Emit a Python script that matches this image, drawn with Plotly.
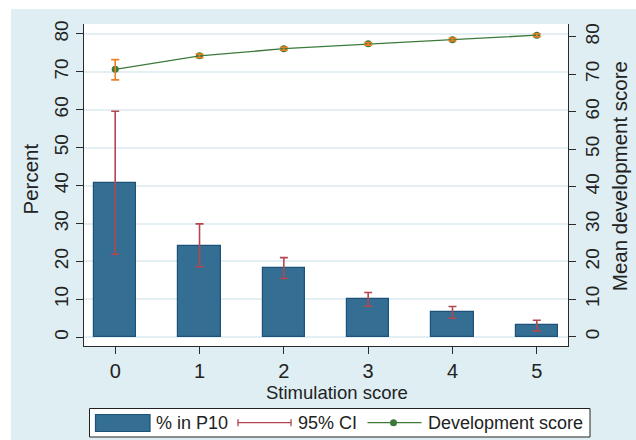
import plotly.graph_objects as go

# ---- data ----
stim_scores = [0, 1, 2, 3, 4, 5]
pct_p10 = [40.8, 24.1, 18.3, 10.0, 6.7, 3.2]
pct_ci_low = [21.9, 18.6, 15.5, 8.2, 5.0, 1.7]
pct_ci_high = [59.6, 29.9, 21.0, 11.8, 8.1, 4.5]
dev_score = [71.3, 74.9, 76.8, 78.1, 79.2, 80.4]
dev_ci_low = [68.5, 74.4, 76.4, 77.75, 78.85, 80.0]
dev_ci_high = [73.9, 75.4, 77.2, 78.45, 79.55, 80.8]
ytick_vals = [0, 10, 20, 30, 40, 50, 60, 70, 80]
xtick_labels = ["0", "1", "2", "3", "4", "5"]
legend_labels = ["% in P10", "95% CI", "Development score"]

FONT = "Liberation Sans, Arial, Helvetica, sans-serif"
BG = "#deeef2"
BAR_FILL = "#346f93"
BAR_LINE = "#1c5179"
CI_RED = "#b4464f"
GREEN = "#3d7a3a"
ORANGE = "#ec8027"
AX = "#2a2a2a"
TXT = "#222222"

# plot area in pixels
L, R, T, B = 84, 568, 24, 346
W, H = 636, 440


def px(x):
    return (x - L) / (R - L)


def py(y):
    return (B - y) / (B - T)


fig = go.Figure()

fig.add_trace(go.Bar(
    x=stim_scores, y=pct_p10, width=0.5, name=legend_labels[0],
    marker=dict(color=BAR_FILL, line=dict(color=BAR_LINE, width=1.2)),
    yaxis="y",
))

fig.add_trace(go.Scatter(
    x=stim_scores, y=pct_ci_high, mode="markers", name=legend_labels[1],
    marker=dict(opacity=0, size=1, color=CI_RED),
    error_y=dict(type="data", symmetric=False, array=[0] * len(stim_scores),
                 arrayminus=[h - l for h, l in zip(pct_ci_high, pct_ci_low)],
                 color=CI_RED, thickness=1.6, width=4),
    hoverinfo="skip", yaxis="y",
))

fig.add_trace(go.Scatter(
    x=stim_scores, y=dev_score, mode="lines+markers", name=legend_labels[2],
    line=dict(color=GREEN, width=1.3),
    marker=dict(color=GREEN, size=7),
    yaxis="y2",
))
fig.add_trace(go.Scatter(
    x=stim_scores, y=dev_score, mode="markers",
    marker=dict(opacity=0, size=1, color=ORANGE),
    error_y=dict(type="data", symmetric=False,
                 array=[h - d for h, d in zip(dev_ci_high, dev_score)],
                 arrayminus=[d - l for d, l in zip(dev_score, dev_ci_low)],
                 color=ORANGE, thickness=1.6, width=4),
    hoverinfo="skip", yaxis="y2",
))

# ---- manual legend (Stata style) ----
leg_y = 422.7
shapes = [
    # white strips at the top/left edge of the picture
    dict(type="rect", xref="paper", yref="paper",
         x0=px(-20), x1=px(11), y0=py(W), y1=py(-20),
         fillcolor="white", line=dict(width=0), layer="below"),
    dict(type="rect", xref="paper", yref="paper",
         x0=px(-20), x1=px(W + 20), y0=py(9), y1=py(-20),
         fillcolor="white", line=dict(width=0), layer="below"),
    # legend box
    dict(type="rect", xref="paper", yref="paper",
         x0=px(89.5), x1=px(590), y0=py(437), y1=py(408.5),
         fillcolor="white", line=dict(color=TXT, width=1)),
    # bar swatch
    dict(type="rect", xref="paper", yref="paper",
         x0=px(95.5), x1=px(150), y0=py(431.5), y1=py(414.5),
         fillcolor=BAR_FILL, line=dict(color=BAR_LINE, width=1.2)),
    # CI symbol
    dict(type="line", xref="paper", yref="paper",
         x0=px(237.5), x1=px(291.5), y0=py(leg_y), y1=py(leg_y),
         line=dict(color=CI_RED, width=1.3)),
    dict(type="line", xref="paper", yref="paper",
         x0=px(238), x1=px(238), y0=py(leg_y - 3.5), y1=py(leg_y + 3.5),
         line=dict(color=CI_RED, width=1.3)),
    dict(type="line", xref="paper", yref="paper",
         x0=px(291), x1=px(291), y0=py(leg_y - 3.5), y1=py(leg_y + 3.5),
         line=dict(color=CI_RED, width=1.3)),
    # development line symbol
    dict(type="line", xref="paper", yref="paper",
         x0=px(367.5), x1=px(421.5), y0=py(leg_y), y1=py(leg_y),
         line=dict(color=GREEN, width=1.3)),
    dict(type="circle", xref="paper", yref="paper",
         x0=px(393.5 - 3.5), x1=px(393.5 + 3.5),
         y0=py(leg_y + 3.5), y1=py(leg_y - 3.5),
         fillcolor=GREEN, line=dict(color=GREEN, width=0)),
]

annotations = [
    dict(text=legend_labels[0], x=px(154), y=py(leg_y), xref="paper", yref="paper",
         xanchor="left", yanchor="middle", showarrow=False, font=dict(size=18)),
    dict(text=legend_labels[1], x=px(295.5), y=py(leg_y), xref="paper", yref="paper",
         xanchor="left", yanchor="middle", showarrow=False, font=dict(size=18)),
    dict(text=legend_labels[2], x=px(426), y=py(leg_y), xref="paper", yref="paper",
         xanchor="left", yanchor="middle", showarrow=False, font=dict(size=18)),
    # axis titles
    dict(text="Stimulation score", x=px(336.5), y=py(392), xref="paper", yref="paper",
         xanchor="center", yanchor="middle", showarrow=False, font=dict(size=18.5)),
    dict(text="Percent", x=px(29.5), y=py(179), xref="paper", yref="paper",
         xanchor="center", yanchor="middle", showarrow=False, textangle=-90,
         font=dict(size=20.5)),
    dict(text="Mean development score", x=px(619.5), y=py(176.7), xref="paper",
         yref="paper", xanchor="center", yanchor="middle", showarrow=False,
         textangle=-90, font=dict(size=20.5)),
]

fig.update_layout(
    width=W, height=H,
    margin=dict(l=L, r=W - R, t=T, b=H - B),
    paper_bgcolor=BG, plot_bgcolor="white",
    font=dict(family=FONT, color=TXT, size=18),
    bargap=0, showlegend=False,
    xaxis=dict(
        range=[-0.37, 5.37], tickvals=stim_scores, ticktext=xtick_labels,
        showgrid=False, zeroline=False, automargin=False,
        showline=True, linecolor=AX, linewidth=1.2,
        ticks="outside", ticklen=7, tickcolor=AX, tickwidth=1.2,
        tickfont=dict(size=20),
    ),
    yaxis=dict(
        range=[-2.3, 82.6], tickvals=ytick_vals, tickangle=-90,
        showgrid=True, gridcolor="#e4eff3", gridwidth=1.5, zeroline=False,
        automargin=False,
        showline=True, linecolor=AX, linewidth=1.2,
        ticks="outside", ticklen=7, tickcolor=AX, tickwidth=1.2,
        tickfont=dict(size=19),
    ),
    yaxis2=dict(
        range=[-2.48, 83.39], tickvals=ytick_vals, tickangle=-90,
        overlaying="y", side="right",
        showgrid=False, zeroline=False, automargin=False,
        showline=True, linecolor=AX, linewidth=1.2,
        ticks="outside", ticklen=7, tickcolor=AX, tickwidth=1.2,
        tickfont=dict(size=19),
    ),
    shapes=shapes,
    annotations=annotations,
)

fig.write_html(
    "out.html",
    config={"displayModeBar": False},
    post_script="document.body.style.margin='0';document.body.style.overflow='hidden';",
)
